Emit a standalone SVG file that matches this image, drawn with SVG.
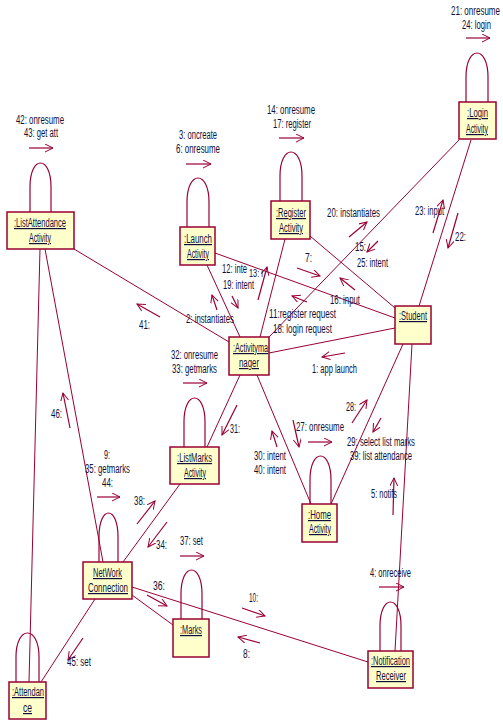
<svg xmlns="http://www.w3.org/2000/svg" width="503" height="725" viewBox="0 0 503 725">
<defs>
<marker id="a" markerWidth="10" markerHeight="10" refX="8" refY="4" orient="auto" markerUnits="userSpaceOnUse"><path d="M0,0 L8,4 L0,8" fill="none" stroke="#990033" stroke-width="1"/></marker>
<style>
.bx{fill:#FFFFCC;stroke:#990033;stroke-width:1.5}
.lp{fill:none;stroke:#990033;stroke-width:1.2}
.c line{stroke:#990033;stroke-width:1}
.m line{stroke:#990033;stroke-width:1.2;marker-end:url(#a)}
text{font-family:"Liberation Sans",Arial,sans-serif;font-size:12px;fill:#10103a}
.u{text-decoration:underline}
</style>
</defs>
<rect width="503" height="725" fill="#ffffff"/>
<g id="connectors" class="c">
<line x1="74" y1="249" x2="229" y2="342"/>
<line x1="40" y1="249" x2="29" y2="682"/>
<line x1="45" y1="249" x2="103" y2="562"/>
<line x1="207" y1="265" x2="240" y2="337"/>
<line x1="215" y1="253" x2="395" y2="318"/>
<line x1="285" y1="239" x2="260" y2="337"/>
<line x1="310" y1="236" x2="395" y2="308"/>
<line x1="459" y1="140" x2="269" y2="337"/>
<line x1="471" y1="140" x2="419" y2="306"/>
<line x1="269" y1="353" x2="395" y2="328"/>
<line x1="240" y1="375" x2="207" y2="447"/>
<line x1="257" y1="375" x2="311" y2="504"/>
<line x1="403" y1="344" x2="331" y2="504"/>
<line x1="412" y1="344" x2="395" y2="651"/>
<line x1="180" y1="484" x2="123" y2="562"/>
<line x1="132" y1="595" x2="173" y2="625"/>
<line x1="132" y1="587" x2="368" y2="662"/>
<line x1="95" y1="599" x2="41" y2="682"/>
</g>
<g id="messages" class="m">
<line x1="29" y1="148" x2="53" y2="148"/>
<line x1="186" y1="164" x2="211" y2="164"/>
<line x1="279" y1="138" x2="304" y2="138"/>
<line x1="466" y1="38" x2="490" y2="38"/>
<line x1="183" y1="383" x2="207" y2="383"/>
<line x1="308" y1="442" x2="332" y2="442"/>
<line x1="180" y1="556" x2="204" y2="556"/>
<line x1="379" y1="587" x2="404" y2="587"/>
<line x1="349" y1="237" x2="367" y2="222"/>
<line x1="378" y1="241" x2="367" y2="252"/>
<line x1="433" y1="233" x2="443" y2="200"/>
<line x1="458" y1="213" x2="448" y2="248"/>
<line x1="297" y1="268" x2="320" y2="276"/>
<line x1="355" y1="290" x2="340" y2="278"/>
<line x1="307" y1="302" x2="292" y2="296"/>
<line x1="345" y1="353" x2="322" y2="357"/>
<line x1="160" y1="317" x2="137" y2="304"/>
<line x1="217" y1="310" x2="212" y2="295"/>
<line x1="258" y1="300" x2="267" y2="267"/>
<line x1="232" y1="296" x2="238" y2="308"/>
<line x1="237" y1="405" x2="222" y2="435"/>
<line x1="277" y1="447" x2="272" y2="431"/>
<line x1="293" y1="420" x2="299" y2="447"/>
<line x1="352" y1="423" x2="367" y2="400"/>
<line x1="381" y1="418" x2="373" y2="432"/>
<line x1="393" y1="515" x2="394" y2="478"/>
<line x1="70" y1="428" x2="63" y2="393"/>
<line x1="97" y1="497" x2="120" y2="497"/>
<line x1="137" y1="524" x2="155" y2="501"/>
<line x1="167" y1="522" x2="148" y2="547"/>
<line x1="147" y1="595" x2="167" y2="606"/>
<line x1="242" y1="608" x2="265" y2="616"/>
<line x1="260" y1="643" x2="238" y2="637"/>
<line x1="83" y1="638" x2="68" y2="660"/>
</g>
<g id="labels">
<text x="16" y="124" textLength="48" lengthAdjust="spacingAndGlyphs">42: onresume</text>
<text x="24" y="137" textLength="34" lengthAdjust="spacingAndGlyphs">43: get att</text>
<text x="179" y="139" textLength="38" lengthAdjust="spacingAndGlyphs">3: oncreate</text>
<text x="176" y="153" textLength="44" lengthAdjust="spacingAndGlyphs">6: onresume</text>
<text x="267" y="114" textLength="48" lengthAdjust="spacingAndGlyphs">14: onresume</text>
<text x="273" y="128" textLength="38" lengthAdjust="spacingAndGlyphs">17: register</text>
<text x="500" y="15" text-anchor="end" textLength="49" lengthAdjust="spacingAndGlyphs">21: onresume</text>
<text x="491" y="29" text-anchor="end" textLength="29" lengthAdjust="spacingAndGlyphs">24: login</text>
<text x="327" y="217" textLength="53" lengthAdjust="spacingAndGlyphs">20: instantiates</text>
<text x="415" y="215" textLength="29" lengthAdjust="spacingAndGlyphs">23: input</text>
<text x="455" y="241" textLength="11" lengthAdjust="spacingAndGlyphs">22:</text>
<text x="355" y="251" textLength="11" lengthAdjust="spacingAndGlyphs">15:</text>
<text x="357" y="267" textLength="31" lengthAdjust="spacingAndGlyphs">25: intent</text>
<text x="305" y="262" textLength="7" lengthAdjust="spacingAndGlyphs">7:</text>
<text x="330" y="304" textLength="30" lengthAdjust="spacingAndGlyphs">16: input</text>
<text x="269" y="318" textLength="67" lengthAdjust="spacingAndGlyphs">11:register request</text>
<text x="273" y="333" textLength="59" lengthAdjust="spacingAndGlyphs">18: login request</text>
<text x="312" y="373" textLength="45" lengthAdjust="spacingAndGlyphs">1: app launch</text>
<text x="139" y="329" textLength="11" lengthAdjust="spacingAndGlyphs">41:</text>
<text x="186" y="323" textLength="48" lengthAdjust="spacingAndGlyphs">2: instantiates</text>
<text x="222" y="273" textLength="25" lengthAdjust="spacingAndGlyphs">12: inte</text>
<text x="249" y="277" textLength="14" lengthAdjust="spacingAndGlyphs" style="font-size:10px">13: i</text>
<text x="223" y="289" textLength="31" lengthAdjust="spacingAndGlyphs">19: intent</text>
<text x="171" y="359" textLength="47" lengthAdjust="spacingAndGlyphs">32: onresume</text>
<text x="172" y="373" textLength="45" lengthAdjust="spacingAndGlyphs">33: getmarks</text>
<text x="230" y="433" textLength="10" lengthAdjust="spacingAndGlyphs">31:</text>
<text x="254" y="460" textLength="32" lengthAdjust="spacingAndGlyphs">30: intent</text>
<text x="254" y="474" textLength="32" lengthAdjust="spacingAndGlyphs">40: intent</text>
<text x="296" y="431" textLength="48" lengthAdjust="spacingAndGlyphs">27: onresume</text>
<text x="346" y="411" textLength="10" lengthAdjust="spacingAndGlyphs">28:</text>
<text x="347" y="446" textLength="68" lengthAdjust="spacingAndGlyphs">29: select list marks</text>
<text x="350" y="460" textLength="62" lengthAdjust="spacingAndGlyphs">39: list attendance</text>
<text x="371" y="498" textLength="26" lengthAdjust="spacingAndGlyphs">5: notifs</text>
<text x="51" y="418" textLength="11" lengthAdjust="spacingAndGlyphs">46:</text>
<text x="104" y="459" textLength="6" lengthAdjust="spacingAndGlyphs">9:</text>
<text x="85" y="473" textLength="45" lengthAdjust="spacingAndGlyphs">35: getmarks</text>
<text x="102" y="487" textLength="11" lengthAdjust="spacingAndGlyphs">44:</text>
<text x="134" y="505" textLength="11" lengthAdjust="spacingAndGlyphs">38:</text>
<text x="156" y="549" textLength="11" lengthAdjust="spacingAndGlyphs">34:</text>
<text x="180" y="545" textLength="23" lengthAdjust="spacingAndGlyphs">37: set</text>
<text x="153" y="590" textLength="12" lengthAdjust="spacingAndGlyphs">36:</text>
<text x="249" y="602" textLength="9" lengthAdjust="spacingAndGlyphs">10:</text>
<text x="243" y="658" textLength="7" lengthAdjust="spacingAndGlyphs">8:</text>
<text x="370" y="577" textLength="41" lengthAdjust="spacingAndGlyphs">4: onreceive</text>
<text x="67" y="666" textLength="24" lengthAdjust="spacingAndGlyphs">45: set</text>
</g>
<g id="ListAttendance">
<path class="lp" d="M30,212 L30,187 C30,155 51,155 51,187 L51,212"/>
<rect class="bx" x="7" y="212" width="67" height="37"/>
<text class="u" x="14" y="227" textLength="52" lengthAdjust="spacingAndGlyphs">:ListAttendance</text>
<text class="u" x="29" y="242" textLength="22" lengthAdjust="spacingAndGlyphs">Activity</text>
</g>
<g id="Launch">
<path class="lp" d="M187,227 L187,202 C187,170 209,170 209,202 L209,227"/>
<rect class="bx" x="180" y="227" width="35" height="38"/>
<text class="u" x="184" y="243" textLength="28" lengthAdjust="spacingAndGlyphs">:Launch</text>
<text class="u" x="187" y="258" textLength="22" lengthAdjust="spacingAndGlyphs">Activity</text>
</g>
<g id="Register">
<path class="lp" d="M280,201 L280,176 C280,144 302,144 302,176 L302,201"/>
<rect class="bx" x="271" y="201" width="39" height="38"/>
<text class="u" x="276" y="217" textLength="30" lengthAdjust="spacingAndGlyphs">:Register</text>
<text class="u" x="279" y="232" textLength="24" lengthAdjust="spacingAndGlyphs">Activity</text>
</g>
<g id="Login">
<path class="lp" d="M466,102 L466,77 C466,45 488,45 488,77 L488,102"/>
<rect class="bx" x="459" y="102" width="37" height="37"/>
<text class="u" x="467" y="117" textLength="21" lengthAdjust="spacingAndGlyphs">:Login</text>
<text class="u" x="466" y="133" textLength="22" lengthAdjust="spacingAndGlyphs">Activity</text>
</g>
<g id="Activitymanager">
<rect class="bx" x="229" y="337" width="40" height="38"/>
<text class="u" x="233" y="352" textLength="35" lengthAdjust="spacingAndGlyphs">:Activityma</text>
<text class="u" x="239" y="367" textLength="20" lengthAdjust="spacingAndGlyphs">nager</text>
</g>
<g id="Student">
<rect class="bx" x="395" y="306" width="36" height="38"/>
<text class="u" x="399" y="320" textLength="28" lengthAdjust="spacingAndGlyphs">:Student</text>
</g>
<g id="ListMarks">
<path class="lp" d="M184,447 L184,422 C184,390 205,390 205,422 L205,447"/>
<rect class="bx" x="170" y="447" width="49" height="37"/>
<text class="u" x="177" y="462" textLength="35" lengthAdjust="spacingAndGlyphs">:ListMarks</text>
<text class="u" x="184" y="477" textLength="22" lengthAdjust="spacingAndGlyphs">Activity</text>
</g>
<g id="Home">
<path class="lp" d="M310,504 L310,480 C310,448 331,448 331,480 L331,504"/>
<rect class="bx" x="302" y="504" width="35" height="38"/>
<text class="u" x="308" y="519" textLength="23" lengthAdjust="spacingAndGlyphs">:Home</text>
<text class="u" x="309" y="533" textLength="22" lengthAdjust="spacingAndGlyphs">Activity</text>
</g>
<g id="NetWorkConnection">
<path class="lp" d="M99,562 L99,537 C99,505 118,505 118,537 L118,562"/>
<rect class="bx" x="83" y="562" width="49" height="37"/>
<text class="u" x="93" y="577" textLength="29" lengthAdjust="spacingAndGlyphs">NetWork</text>
<text class="u" x="88" y="592" textLength="40" lengthAdjust="spacingAndGlyphs">Connection</text>
</g>
<g id="Marks">
<path class="lp" d="M181,619 L181,594 C181,562 202,562 202,594 L202,619"/>
<rect class="bx" x="173" y="619" width="36" height="38"/>
<text class="u" x="180" y="634" textLength="22" lengthAdjust="spacingAndGlyphs">:Marks</text>
</g>
<g id="NotificationReceiver">
<path class="lp" d="M380,651 L380,626 C380,594 401,594 401,626 L401,651"/>
<rect class="bx" x="368" y="651" width="45" height="37"/>
<text class="u" x="371" y="665" textLength="39" lengthAdjust="spacingAndGlyphs">:Notification</text>
<text class="u" x="376" y="680" textLength="30" lengthAdjust="spacingAndGlyphs">Receiver</text>
</g>
<g id="Attendance">
<path class="lp" d="M16,682 L16,657 C16,625 39,625 39,657 L39,682"/>
<rect class="bx" x="9" y="682" width="37" height="37"/>
<text class="u" x="12" y="696" textLength="32" lengthAdjust="spacingAndGlyphs">:Attendan</text>
<text class="u" x="23" y="712" textLength="9" lengthAdjust="spacingAndGlyphs">ce</text>
</g>
</svg>
